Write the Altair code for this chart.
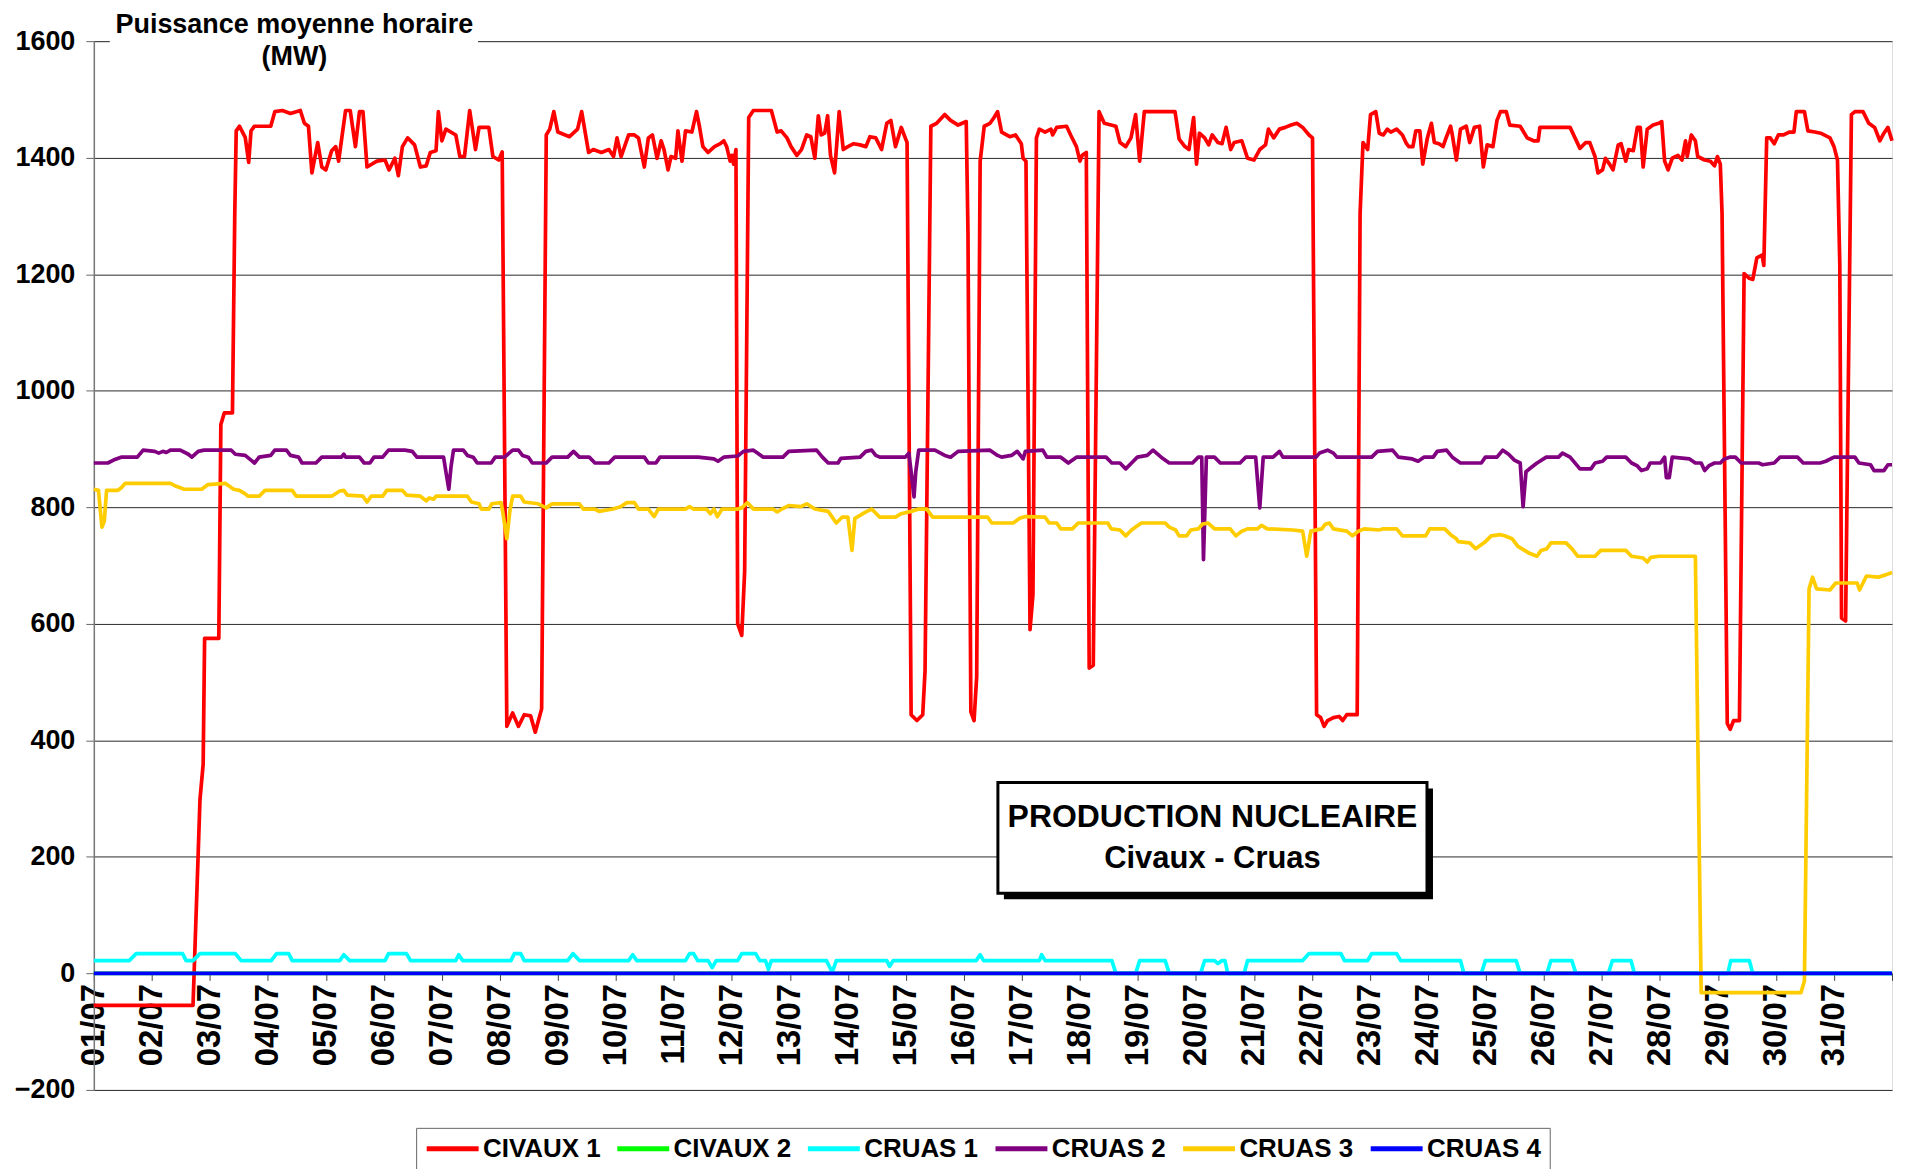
import json
import altair as alt
import pandas as pd

# ---------------- data ----------------
SERIES = ["CIVAUX 1", "CIVAUX 2", "CRUAS 1", "CRUAS 2", "CRUAS 3", "CRUAS 4"]
COLORS = ["#FF0000", "#00FF00", "#00FFFF", "#800080", "#FFCC00", "#0000FF"]
DAY_LABELS = ["%02d/07" % d for d in range(1, 32)]
Y_TICKS = [-200, 0, 200, 400, 600, 800, 1000, 1200, 1400, 1600]

# (day offset from 01/07 00:00, MW)
CIVAUX1 = [
    (0, -55), (1.71, -55), (1.80, 208), (1.83, 298), (1.885, 359), (1.91, 575), (2.155, 575),
    (2.19, 942), (2.25, 962), (2.39, 962), (2.43, 1304), (2.455, 1446), (2.51, 1454), (2.61, 1435),
    (2.67, 1392), (2.71, 1446), (2.77, 1454), (3.05, 1454), (3.12, 1479), (3.25, 1481), (3.39, 1476),
    (3.56, 1481), (3.63, 1459), (3.70, 1454), (3.76, 1374), (3.86, 1426), (3.93, 1384), (4.00, 1379),
    (4.10, 1412), (4.17, 1419), (4.22, 1394), (4.34, 1481), (4.42, 1481), (4.51, 1419), (4.58, 1479),
    (4.64, 1479), (4.71, 1384), (4.88, 1394), (5.02, 1396), (5.09, 1379), (5.19, 1399), (5.25, 1369),
    (5.32, 1419), (5.41, 1434), (5.53, 1422), (5.63, 1384), (5.73, 1386), (5.80, 1409), (5.90, 1412),
    (5.94, 1479), (6.00, 1429), (6.07, 1449), (6.24, 1439), (6.31, 1402), (6.39, 1402), (6.48, 1481),
    (6.58, 1414), (6.64, 1452), (6.81, 1452), (6.88, 1402), (6.98, 1396), (7.04, 1410), (7.12, 424),
    (7.22, 447), (7.32, 424), (7.42, 444), (7.53, 442), (7.61, 414), (7.72, 454), (7.80, 1439),
    (7.86, 1449), (7.93, 1479), (8.00, 1444), (8.20, 1436), (8.34, 1449), (8.41, 1479), (8.53, 1409),
    (8.61, 1414), (8.75, 1409), (8.88, 1414), (8.96, 1402), (9.02, 1434), (9.09, 1402), (9.22, 1439),
    (9.32, 1439), (9.39, 1434), (9.49, 1384), (9.56, 1434), (9.63, 1439), (9.71, 1399), (9.78, 1429),
    (9.83, 1414), (9.90, 1379), (9.95, 1402), (10.03, 1399), (10.07, 1446), (10.14, 1394), (10.20, 1446),
    (10.31, 1444), (10.39, 1479), (10.44, 1454), (10.50, 1419), (10.59, 1409), (10.70, 1419),
    (10.80, 1424), (10.86, 1429), (10.91, 1419), (10.97, 1394), (11.00, 1404), (11.03, 1389),
    (11.07, 1414), (11.10, 600), (11.17, 580), (11.22, 690), (11.29, 1469), (11.37, 1481), (11.68, 1481),
    (11.78, 1444), (11.85, 1446), (11.95, 1434), (12.02, 1419), (12.12, 1404), (12.20, 1414),
    (12.29, 1439), (12.36, 1436), (12.43, 1399), (12.49, 1472), (12.54, 1439), (12.60, 1442),
    (12.65, 1472), (12.70, 1404), (12.77, 1374), (12.85, 1479), (12.92, 1414), (13.00, 1419),
    (13.10, 1424), (13.21, 1422), (13.31, 1419), (13.38, 1436), (13.48, 1434), (13.58, 1414),
    (13.67, 1459), (13.74, 1464), (13.82, 1419), (13.92, 1452), (14.02, 1426), (14.09, 444),
    (14.19, 434), (14.29, 444), (14.33, 519), (14.43, 1454), (14.53, 1459), (14.67, 1474), (14.77, 1464),
    (14.90, 1456), (15.04, 1462), (15.07, 1273), (15.12, 449), (15.175, 434), (15.22, 509), (15.28, 1394),
    (15.35, 1454), (15.45, 1459), (15.52, 1469), (15.58, 1479), (15.65, 1444), (15.79, 1436),
    (15.89, 1439), (15.99, 1424), (16.02, 1399), (16.07, 1394), (16.14, 590), (16.19, 650), (16.25, 1434),
    (16.30, 1449), (16.40, 1444), (16.50, 1449), (16.53, 1439), (16.60, 1452), (16.77, 1454),
    (16.84, 1439), (16.94, 1419), (17.00, 1394), (17.04, 1404), (17.11, 1409), (17.16, 524), (17.23, 529),
    (17.33, 1479), (17.42, 1459), (17.62, 1454), (17.69, 1426), (17.79, 1419), (17.88, 1434),
    (17.96, 1474), (18.03, 1394), (18.11, 1479), (18.64, 1479), (18.71, 1432), (18.81, 1419),
    (18.88, 1414), (18.96, 1469), (19.01, 1389), (19.06, 1442), (19.15, 1434), (19.22, 1422),
    (19.28, 1439), (19.38, 1426), (19.45, 1424), (19.52, 1452), (19.60, 1414), (19.66, 1426),
    (19.79, 1429), (19.89, 1399), (20.00, 1396), (20.10, 1414), (20.20, 1422), (20.25, 1449),
    (20.34, 1434), (20.44, 1449), (20.54, 1452), (20.64, 1456), (20.74, 1459), (20.84, 1452),
    (20.95, 1439), (21.01, 1434), (21.08, 444), (21.15, 439), (21.21, 424), (21.27, 434), (21.37, 439),
    (21.47, 441), (21.53, 434), (21.60, 444), (21.78, 444), (21.83, 1304), (21.88, 1426), (21.96, 1414),
    (22.01, 1474), (22.10, 1479), (22.16, 1442), (22.23, 1439), (22.30, 1449), (22.36, 1444),
    (22.46, 1449), (22.56, 1439), (22.63, 1424), (22.67, 1419), (22.74, 1419), (22.79, 1446),
    (22.86, 1446), (22.91, 1389), (22.99, 1434), (23.06, 1459), (23.11, 1426), (23.19, 1424),
    (23.26, 1419), (23.32, 1436), (23.39, 1454), (23.42, 1439), (23.49, 1396), (23.56, 1449),
    (23.66, 1454), (23.72, 1426), (23.80, 1452), (23.89, 1454), (23.955, 1384), (24.02, 1422),
    (24.12, 1419), (24.19, 1464), (24.25, 1479), (24.35, 1479), (24.41, 1456), (24.59, 1454),
    (24.71, 1434), (24.82, 1429), (24.90, 1429), (24.93, 1452), (25.45, 1452), (25.62, 1416),
    (25.72, 1426), (25.79, 1426), (25.88, 1402), (25.93, 1374), (26.01, 1379), (26.06, 1399),
    (26.13, 1389), (26.19, 1379), (26.28, 1422), (26.33, 1424), (26.41, 1394), (26.46, 1414),
    (26.54, 1412), (26.61, 1452), (26.66, 1452), (26.71, 1384), (26.78, 1449), (26.88, 1456),
    (26.98, 1459), (27.03, 1462), (27.08, 1394), (27.14, 1379), (27.21, 1399), (27.31, 1404),
    (27.38, 1396), (27.44, 1429), (27.47, 1402), (27.54, 1439), (27.61, 1429), (27.65, 1402),
    (27.77, 1396), (27.87, 1394), (27.94, 1386), (27.99, 1402), (28.04, 1389), (28.07, 1304),
    (28.16, 429), (28.21, 419), (28.27, 434), (28.37, 434), (28.45, 1201), (28.54, 1193), (28.60, 1191),
    (28.67, 1228), (28.76, 1233), (28.79, 1215), (28.84, 1434), (28.90, 1434), (28.97, 1424),
    (29.04, 1439), (29.13, 1439), (29.23, 1444), (29.31, 1444), (29.35, 1479), (29.49, 1479),
    (29.55, 1446), (29.67, 1444), (29.77, 1442), (29.83, 1439), (29.93, 1434), (30.00, 1419),
    (30.06, 1396), (30.10, 1217), (30.13, 610), (30.20, 605), (30.30, 1474), (30.36, 1479), (30.50, 1479),
    (30.60, 1459), (30.70, 1452), (30.79, 1429), (30.86, 1442), (30.93, 1452), (31.0, 1429),
]

CIVAUX2 = [(0, 0), (31, 0)]

CRUAS1 = [
    (0, 22), (0.61, 22), (0.73, 34), (1.53, 34), (1.59, 22), (1.71, 22), (1.83, 34), (2.44, 34),
    (2.54, 22), (3.06, 22), (3.15, 34), (3.36, 34), (3.42, 22), (4.24, 22), (4.31, 32), (4.41, 22),
    (5.02, 22), (5.08, 34), (5.39, 34), (5.46, 22), (6.24, 22), (6.29, 32), (6.36, 22), (7.19, 22),
    (7.25, 34), (7.36, 34), (7.42, 22), (8.17, 22), (8.26, 34), (8.37, 22), (9.22, 22), (9.29, 32),
    (9.36, 22), (10.20, 22), (10.27, 34), (10.34, 34), (10.41, 22), (10.59, 22), (10.66, 10),
    (10.73, 22), (11.10, 22), (11.17, 34), (11.41, 34), (11.48, 22), (11.58, 22), (11.63, 7),
    (11.68, 22), (12.63, 22), (12.73, 2), (12.80, 22), (13.67, 22), (13.72, 12), (13.78, 22),
    (15.21, 22), (15.28, 32), (15.34, 22), (16.30, 22), (16.34, 32), (16.40, 22), (17.55, 22),
    (17.62, 0), (17.96, 0), (18.03, 22), (18.47, 22), (18.54, 0), (19.08, 0), (19.15, 22), (19.32, 22),
    (19.38, 17), (19.45, 22), (19.50, 22), (19.55, 0), (19.83, 0), (19.89, 22), (20.84, 22),
    (20.95, 34), (21.50, 34), (21.56, 22), (21.96, 22), (22.03, 34), (22.46, 34), (22.53, 22),
    (23.56, 22), (23.62, 0), (23.92, 0), (23.99, 22), (24.52, 22), (24.59, 0), (25.05, 0), (25.12, 22),
    (25.48, 22), (25.55, 0), (26.11, 0), (26.18, 22), (26.50, 22), (26.56, 0), (28.17, 0), (28.22, 22),
    (28.54, 22), (28.60, 0), (31.0, 0),
]

CRUAS2 = [
    (0, 876), (0.24, 876), (0.34, 881), (0.47, 886), (0.75, 886), (0.85, 898), (1.05, 896), (1.12, 893),
    (1.19, 896), (1.25, 894), (1.32, 898), (1.49, 898), (1.63, 891), (1.69, 886), (1.80, 896),
    (1.90, 898), (2.37, 898), (2.44, 891), (2.61, 889), (2.71, 881), (2.77, 876), (2.85, 886),
    (3.05, 889), (3.12, 898), (3.32, 898), (3.39, 889), (3.53, 886), (3.59, 876), (3.83, 876),
    (3.93, 886), (4.27, 886), (4.31, 891), (4.34, 886), (4.58, 886), (4.66, 876), (4.76, 876),
    (4.83, 886), (4.98, 886), (5.08, 898), (5.36, 898), (5.49, 896), (5.57, 886), (6.03, 886),
    (6.07, 861), (6.12, 831), (6.16, 871), (6.20, 898), (6.37, 898), (6.44, 889), (6.54, 886),
    (6.61, 876), (6.85, 876), (6.92, 886), (7.08, 886), (7.22, 898), (7.32, 898), (7.39, 889),
    (7.49, 886), (7.56, 876), (7.80, 876), (7.90, 886), (8.17, 886), (8.27, 896), (8.37, 886),
    (8.54, 886), (8.64, 876), (8.88, 876), (8.98, 886), (9.49, 886), (9.56, 876), (9.69, 876),
    (9.76, 886), (10.42, 886), (10.69, 883), (10.76, 879), (10.86, 886), (11.10, 888), (11.20, 896),
    (11.37, 898), (11.44, 893), (11.54, 886), (11.88, 886), (11.98, 896), (12.46, 898), (12.56, 886),
    (12.66, 876), (12.83, 876), (12.88, 884), (13.21, 886), (13.31, 896), (13.41, 898), (13.48, 889),
    (13.55, 886), (13.99, 886), (14.05, 893), (14.09, 861), (14.14, 818), (14.17, 861), (14.22, 898),
    (14.50, 898), (14.67, 889), (14.77, 886), (14.90, 896), (15.45, 898), (15.58, 889), (15.65, 886),
    (15.82, 889), (15.92, 896), (16.02, 883), (16.06, 896), (16.36, 898), (16.43, 886), (16.67, 886),
    (16.80, 876), (16.94, 886), (17.45, 886), (17.55, 876), (17.69, 876), (17.79, 866), (17.89, 876),
    (17.99, 886), (18.16, 889), (18.26, 898), (18.40, 886), (18.54, 876), (18.94, 876), (19.04, 886),
    (19.10, 886), (19.13, 710), (19.18, 886), (19.32, 886), (19.42, 876), (19.76, 876), (19.86, 886),
    (20.03, 886), (20.10, 799), (20.16, 886), (20.33, 886), (20.44, 896), (20.50, 886), (21.07, 886),
    (21.13, 893), (21.27, 898), (21.37, 893), (21.43, 886), (22.03, 886), (22.13, 896), (22.39, 898),
    (22.49, 886), (22.73, 883), (22.83, 879), (22.93, 886), (23.09, 886), (23.16, 896), (23.32, 898),
    (23.42, 886), (23.56, 876), (23.92, 876), (23.99, 886), (24.19, 886), (24.29, 898), (24.39, 891),
    (24.49, 881), (24.59, 876), (24.64, 801), (24.69, 861), (24.75, 866), (24.88, 876), (25.04, 886),
    (25.25, 886), (25.32, 893), (25.45, 886), (25.62, 866), (25.81, 866), (25.88, 876), (26.01, 879),
    (26.08, 886), (26.41, 886), (26.51, 876), (26.61, 871), (26.68, 863), (26.78, 866), (26.83, 876),
    (27.01, 876), (27.08, 886), (27.11, 851), (27.16, 851), (27.21, 886), (27.51, 883), (27.61, 876),
    (27.71, 876), (27.77, 863), (27.84, 871), (27.94, 876), (28.04, 876), (28.11, 883), (28.20, 886),
    (28.30, 886), (28.40, 876), (28.70, 876), (28.77, 873), (28.97, 876), (29.07, 886), (29.37, 886),
    (29.47, 876), (29.76, 876), (29.86, 879), (30.00, 886), (30.36, 886), (30.43, 876), (30.63, 873),
    (30.69, 863), (30.86, 863), (30.93, 873), (31.0, 873),
]

CRUAS3 = [
    (0, 831), (0.08, 829), (0.14, 766), (0.18, 776), (0.22, 829), (0.41, 829), (0.47, 833), (0.54, 841),
    (1.32, 841), (1.42, 836), (1.56, 831), (1.86, 831), (1.97, 839), (2.27, 841), (2.41, 831),
    (2.51, 829), (2.61, 823), (2.66, 819), (2.85, 819), (2.95, 829), (3.42, 829), (3.49, 819),
    (4.10, 819), (4.24, 828), (4.31, 829), (4.37, 821), (4.64, 819), (4.71, 809), (4.78, 819),
    (4.98, 819), (5.05, 829), (5.32, 829), (5.39, 821), (5.63, 819), (5.73, 811), (5.78, 816),
    (5.86, 814), (5.90, 819), (6.44, 819), (6.51, 809), (6.64, 806), (6.68, 797), (6.81, 797),
    (6.86, 806), (7.02, 808), (7.05, 792), (7.12, 746), (7.17, 792), (7.22, 819), (7.36, 819),
    (7.42, 809), (7.66, 806), (7.80, 799), (7.90, 806), (8.37, 806), (8.44, 797), (8.64, 797),
    (8.71, 793), (8.95, 797), (9.08, 801), (9.19, 808), (9.32, 808), (9.39, 797), (9.56, 797),
    (9.66, 784), (9.73, 797), (10.20, 797), (10.27, 801), (10.34, 797), (10.56, 797), (10.63, 789),
    (10.69, 797), (10.75, 784), (10.83, 797), (11.10, 797), (11.17, 799), (11.27, 808), (11.37, 797),
    (11.71, 797), (11.78, 792), (11.86, 797), (11.98, 803), (12.19, 801), (12.29, 806), (12.43, 797),
    (12.66, 793), (12.80, 773), (12.90, 783), (13.00, 783), (13.07, 726), (13.12, 781), (13.21, 786),
    (13.31, 792), (13.41, 797), (13.55, 783), (13.82, 783), (13.92, 789), (14.09, 793), (14.22, 797),
    (14.36, 797), (14.46, 783), (15.41, 783), (15.48, 773), (15.85, 773), (15.96, 781), (16.06, 784),
    (16.40, 783), (16.47, 773), (16.60, 773), (16.67, 763), (16.87, 763), (16.97, 773), (17.48, 773),
    (17.54, 763), (17.69, 761), (17.79, 751), (17.89, 761), (17.96, 766), (18.06, 773), (18.47, 773),
    (18.54, 766), (18.65, 761), (18.71, 751), (18.84, 751), (18.91, 761), (19.04, 763), (19.11, 771),
    (19.21, 773), (19.32, 763), (19.59, 763), (19.69, 751), (19.79, 759), (19.89, 763), (20.06, 763),
    (20.13, 769), (20.23, 763), (20.67, 761), (20.84, 759), (20.91, 716), (20.98, 759), (21.17, 763),
    (21.23, 771), (21.30, 773), (21.37, 763), (21.60, 759), (21.70, 751), (21.80, 759), (21.90, 763),
    (22.16, 761), (22.23, 763), (22.46, 763), (22.56, 751), (22.96, 751), (23.03, 763), (23.29, 763),
    (23.39, 753), (23.49, 746), (23.52, 741), (23.72, 739), (23.82, 729), (23.99, 741), (24.09, 751),
    (24.25, 753), (24.32, 751), (24.45, 746), (24.55, 733), (24.75, 721), (24.88, 716), (24.95, 726),
    (25.05, 729), (25.12, 739), (25.38, 739), (25.48, 729), (25.58, 716), (25.88, 716), (25.98, 726),
    (26.41, 726), (26.51, 716), (26.71, 713), (26.78, 706), (26.84, 714), (26.98, 716), (27.61, 716),
    (27.71, -33), (29.43, -33), (29.49, -13), (29.57, 660), (29.63, 680), (29.70, 660), (29.93, 658),
    (30.03, 670), (30.40, 670), (30.44, 658), (30.56, 682), (30.76, 680), (30.89, 684), (31.0, 688),
]

CRUAS4 = [(0, 0), (31, 0)]

SERIES_POINTS = [CIVAUX1, CIVAUX2, CRUAS1, CRUAS2, CRUAS3, CRUAS4]

rows = []
for name, pts in zip(SERIES, SERIES_POINTS):
    for t, v in pts:
        rows.append({"series": name, "t": t, "v": v})
df = pd.DataFrame(rows)

# ---------------- layout ----------------
W, H = 1802, 1051
FONT = "Liberation Sans"
ZERO_OFFSET = -H * 200 / 1800.0

label_expr = "datum.value < 31 ? " + json.dumps(DAY_LABELS) + "[datum.value] : ''"

# legend line symbol: a path running from -r to 4r (r = sqrt(size)/2)
SYM_SIZE = 433
LEGEND_LINE = "M-1,0L4,0"

lines = alt.Chart(df).mark_line(strokeWidth=3.7, strokeJoin="round").encode(
    x=alt.X("t:Q",
            scale=alt.Scale(domain=[0, 31], nice=False, zero=False),
            axis=alt.Axis(values=list(range(0, 32)), labelExpr=label_expr, title=None,
                          labelAngle=270, labelFontSize=33, labelFontWeight="bold",
                          labelFont=FONT, labelColor="black", labelPadding=3,
                          tickSize=7, tickColor="#444", domainColor="#444",
                          grid=False, offset=ZERO_OFFSET, labelOverlap=False)),
    y=alt.Y("v:Q",
            scale=alt.Scale(domain=[-200, 1600], nice=False, zero=False),
            axis=alt.Axis(values=Y_TICKS, format="d", title=None, labelFontSize=27,
                          labelFontWeight="bold", labelFont=FONT, labelColor="black",
                          labelPadding=11, tickSize=8, tickColor="#666", domainColor="#777",
                          domainWidth=1.5, grid=True, gridColor="#2a2a2a", gridWidth=1)),
    color=alt.Color("series:N",
                    scale=alt.Scale(domain=SERIES, range=COLORS),
                    legend=alt.Legend(orient="none", legendX=323, legendY=1089,
                                      direction="horizontal", title=None,
                                      symbolType=LEGEND_LINE, symbolSize=SYM_SIZE,
                                      symbolStrokeWidth=5, labelFontSize=26,
                                      labelFontWeight="bold", labelFont=FONT,
                                      labelColor="black", labelOffset=33,
                                      columnPadding=6, padding=8,
                                      strokeColor="#666", fillColor="white")),
)

one = pd.DataFrame({"k": [0]})

title_bg = alt.Chart(one).mark_rect(color="white").encode(
    x=alt.value(16), x2=alt.value(385), y=alt.value(-6), y2=alt.value(6))
title1 = alt.Chart(one).mark_text(fontSize=27, fontWeight="bold", font=FONT, color="black",
                                  align="center", baseline="middle").encode(
    x=alt.value(201), y=alt.value(-16), text=alt.value("Puissance moyenne horaire"))
title2 = alt.Chart(one).mark_text(fontSize=27, fontWeight="bold", font=FONT, color="black",
                                  align="center", baseline="middle").encode(
    x=alt.value(201), y=alt.value(16), text=alt.value("(MW)"))

box_shadow = alt.Chart(one).mark_rect(color="black").encode(
    x=alt.value(912), x2=alt.value(1342), y=alt.value(749), y2=alt.value(860))
box = alt.Chart(one).mark_rect(fill="white", stroke="black", strokeWidth=3).encode(
    x=alt.value(906), x2=alt.value(1336), y=alt.value(743), y2=alt.value(854))
box1 = alt.Chart(one).mark_text(fontSize=32, fontWeight="bold", font=FONT, color="black",
                                align="center", baseline="middle").encode(
    x=alt.value(1121), y=alt.value(778), text=alt.value("PRODUCTION NUCLEAIRE"))
box2 = alt.Chart(one).mark_text(fontSize=31, fontWeight="bold", font=FONT, color="black",
                                align="center", baseline="middle").encode(
    x=alt.value(1121), y=alt.value(820), text=alt.value("Civaux - Cruas"))

chart = alt.layer(lines, title_bg, title1, title2, box_shadow, box, box1, box2).properties(
    width=W, height=H,
    autosize=alt.AutoSizeParams(type="none"),
    padding={"left": 86, "top": 32, "right": 5, "bottom": 78},
).configure_view(stroke=None).configure(font=FONT, background="white")

chart.save("out.html", embed_options={"renderer": "svg", "actions": False})
